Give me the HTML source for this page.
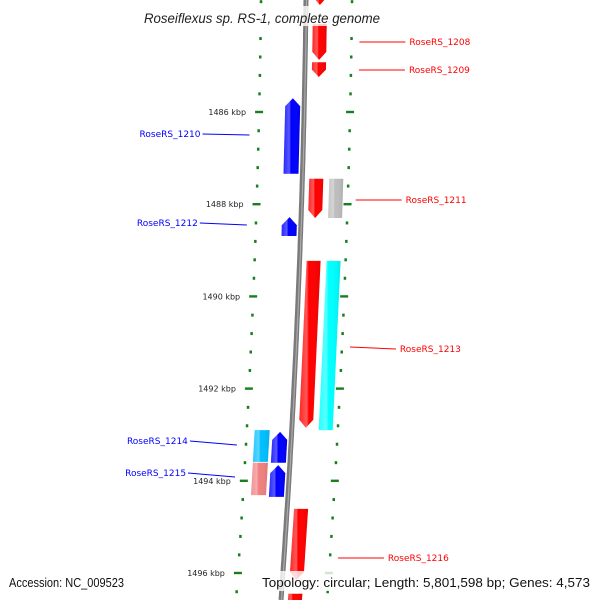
<!DOCTYPE html>
<html><head><meta charset="utf-8"><style>
html,body{margin:0;background:#fff;overflow:hidden;width:600px;height:600px}
svg{display:block;overflow:hidden}
text{font-family:"DejaVu Sans","Liberation Sans",sans-serif}
</style></head><body>
<svg id="map" width="600" height="600" viewBox="0 0 600 600" xmlns="http://www.w3.org/2000/svg">
<defs>
<linearGradient id="sh" x1="0" x2="1" y1="0" y2="0">
<stop offset="0" stop-color="#fff" stop-opacity="0.15"/>
<stop offset="0.35" stop-color="#fff" stop-opacity="0.35"/>
<stop offset="0.45" stop-color="#fff" stop-opacity="0"/>
<stop offset="1" stop-color="#000" stop-opacity="0.08"/>
</linearGradient>
<clipPath id="clip"><rect x="0" y="0" width="600" height="600"/></clipPath>
</defs>
<g clip-path="url(#clip)">
<g id="ticks"></g>
<g id="backbone"></g>
<g id="features"></g>
<g id="labels"></g>
</g>
<g>
<rect x="140" y="6" width="244" height="20" fill="#fff" opacity="0.8"/>
<text x="262" y="23" text-anchor="middle" font-size="14" font-style="italic" fill="#222" style="font-family:'Liberation Sans',sans-serif" textLength="236" lengthAdjust="spacingAndGlyphs">Roseiflexus sp. RS-1, complete genome</text>
</g>
<g>
<rect x="5" y="571" width="124" height="20" fill="#fff" opacity="0.8"/>
<text x="9" y="587" font-size="13" fill="#111" style="font-family:'Liberation Sans',sans-serif" textLength="115" lengthAdjust="spacingAndGlyphs">Accession: NC_009523</text>
<rect x="258" y="571" width="336" height="20" fill="#fff" opacity="0.8"/>
<text x="262" y="587" font-size="13" fill="#111" style="font-family:'Liberation Sans',sans-serif" textLength="328" lengthAdjust="spacingAndGlyphs">Topology: circular; Length: 5,801,598 bp; Genes: 4,573</text>
</g>
</svg>
<script>
// data (kbp)
const majorTicks = [1486, 1488, 1490, 1492, 1494, 1496];
const minorStep = 0.4;
const featNames = ['f0','RoseRS_1208','RoseRS_1209','RoseRS_1210','RoseRS_1211','RoseRS_1211b','RoseRS_1212','RoseRS_1213','RoseRS_1213b','RoseRS_1214b','RoseRS_1214','RoseRS_1215b','RoseRS_1215','RoseRS_1216','f1'];
const featStart = [1483.1,1484.09,1484.92,1485.70,1487.45,1487.45,1488.28,1489.23,1489.23,1492.90,1492.94,1493.61,1493.66,1494.61,1496.45];
const featEnd   = [1483.68,1484.87,1485.24,1487.34,1488.30,1488.30,1488.69,1492.85,1492.90,1493.59,1493.61,1494.31,1494.35,1496.15,1497.6];
const featRing  = [1,1,1,-1,1,2,-1,1,2,-2,-1,-2,-1,1,1];
const featColor = ['#ff0000','#ff0000','#ff0000','#0000ff','#ff0000','#bdbdbd','#0000ff','#ff0000','#00ffff','#00bfff','#0000ff','#f08080','#0000ff','#ff0000','#ff0000'];
const featArrow = [1,1,1,-1,1,0,-1,1,0,0,-1,0,-1,1,1];
const labelText = ['RoseRS_1208','RoseRS_1209','RoseRS_1210','RoseRS_1211','RoseRS_1212','RoseRS_1213','RoseRS_1214','RoseRS_1215','RoseRS_1216'];
const labelSide = [1,1,-1,1,-1,1,-1,-1,1];
const labelY = [41,69,133,199,222,348,440,472,557];
const labelAnchorY = [42,70,135,200,225,347,445,477,558];

const NS='http://www.w3.org/2000/svg';
function yOf(k){return 112+(k-1486)*46.1;}
function bx(y){return 306-0.01167*y-0.00005*y*y;}
const ringOff={1:[7,21],2:[27,41],'-1':[-19,-4],'-2':[-37,-22]};
function mk(tag,attrs,parent){const e=document.createElementNS(NS,tag);for(const k in attrs)e.setAttribute(k,attrs[k]);parent.appendChild(e);return e;}

// backbone
const bb=document.getElementById('backbone');
let pts=[];for(let y=0;y<=600;y+=5)pts.push(bx(y).toFixed(1)+','+y);
mk('polyline',{points:pts.join(' '),fill:'none',stroke:'#7a7a7a','stroke-width':5},bb);
mk('polyline',{points:pts.map(p=>{const[a,b]=p.split(',');return (+a+0.5)+','+b}).join(' '),fill:'none',stroke:'#aaa','stroke-width':1.2},bb);

// ticks
const tg=document.getElementById('ticks');
for(let k=1483.6;k<=1497.2;k+=minorStep){
  const y=yOf(k),b=bx(y);
  const isMaj=majorTicks.some(m=>Math.abs(m-k)<0.01);
  [-45,46].forEach(o=>{
    const d=mk('rect',{x:isMaj?b+o-4:b+o-1.2,y:y-1.2,width:isMaj?8:2.5,height:isMaj?2.4:3,fill:'#1a7f1a'},tg);
    
    
  });
}
majorTicks.forEach(m=>{
  const y=yOf(m);
  const t=mk('text',{x:bx(y)-58,y:y+3,'font-size':8,'text-anchor':'end',fill:'#222'},tg);
  t.textContent=m+' kbp';
  
  
});

// features
const fg=document.getElementById('features');
featNames.forEach((n,i)=>{
  const y1=yOf(featStart[i]),y2=yOf(featEnd[i]);
  const [o1,o2]=ringOff[featRing[i]];
  const a=featArrow[i],h=Math.min(8,(y2-y1)*0.5);
  let p;
  const L=y=>bx(y)+o1,R=y=>bx(y)+o2;
  if(a===1){p=[[L(y1),y1],[R(y1),y1],[R(y2-h),y2-h],[(L(y2)+R(y2))/2,y2],[L(y2-h),y2-h]];}
  else if(a===-1){p=[[(L(y1)+R(y1))/2,y1],[R(y1+h),y1+h],[R(y2),y2],[L(y2),y2],[L(y1+h),y1+h]];}
  else p=[[L(y1),y1],[R(y1),y1],[R(y2),y2],[L(y2),y2]];
  const ps=p.map(q=>q[0].toFixed(1)+','+q[1].toFixed(1)).join(' ');
  const g=mk('g',{},fg);
  
  
  mk('polygon',{points:ps,fill:featColor[i]},g);
  mk('polygon',{points:ps,fill:'url(#sh)'},g);
});

// labels
const lg=document.getElementById('labels');
labelText.forEach((t,i)=>{
  const s=labelSide[i],y=labelY[i],ay=labelAnchorY[i];
  const b=bx(ay);
  const col=s>0?'#ff0000':'#0000ff';
  const x1=s>0?b+54:b-54,x2=s>0?x1+46:x1-47;
  const l=mk('line',{x1:x1,y1:ay,x2:x2,y2:y+1,stroke:col,'stroke-width':1},lg);
  
  
  const tx=mk('text',{x:s>0?x2+4:x2-2,y:y+4,'font-size':9,fill:col,'text-anchor':s>0?'start':'end'},lg);
  tx.textContent=t;
  
  
});
</script>
</body></html>
